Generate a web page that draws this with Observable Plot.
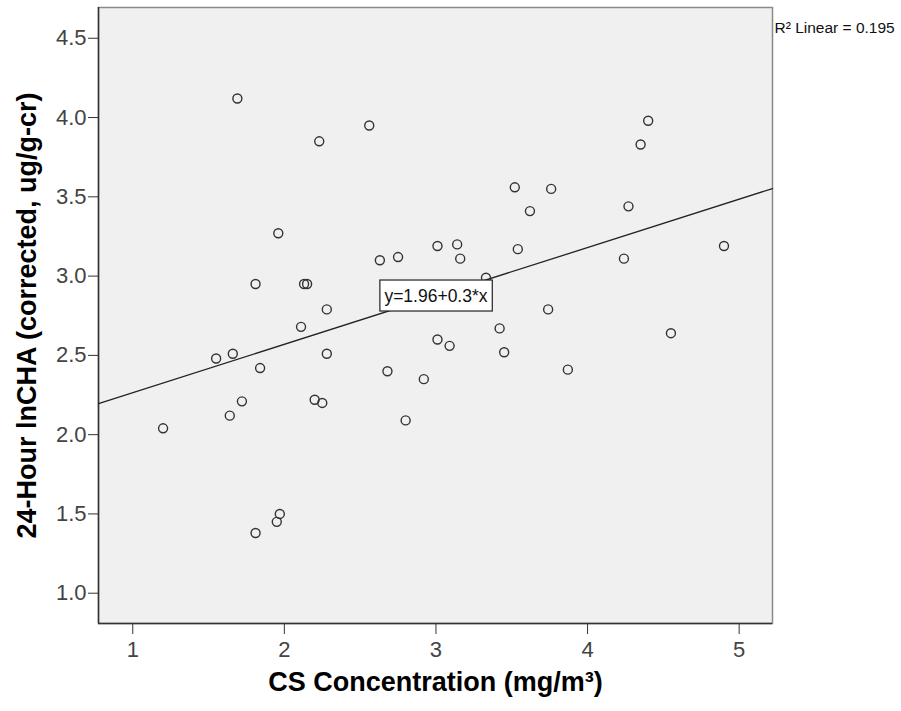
<!DOCTYPE html>
<html><head><meta charset="utf-8">
<script src="https://cdn.jsdelivr.net/npm/d3@7"></script>
<script src="https://cdn.jsdelivr.net/npm/@observablehq/plot@0.6"></script>
<style>body{margin:0;background:#fff;} svg{display:block;}</style>
</head><body><div id="chart"></div>
<script>
// Data
const csConc = [1.20,1.55,1.66,1.64,1.72,1.69,1.81,1.84,1.81,1.95,1.97,1.96,2.11,2.13,2.15,2.20,2.25,2.23,2.28,2.28,2.56,2.63,2.68,2.75,2.80,2.92,3.01,3.01,3.09,3.14,3.16,3.33,3.42,3.45,3.52,3.54,3.62,3.74,3.76,3.87,4.24,4.27,4.35,4.40,4.55,4.90];
const lnCHA  = [2.04,2.48,2.51,2.12,2.21,4.12,2.95,2.42,1.38,1.45,1.50,3.27,2.68,2.95,2.95,2.22,2.20,3.85,2.79,2.51,3.95,3.10,2.40,3.12,2.09,2.35,3.19,2.60,2.56,3.20,3.11,2.99,2.67,2.52,3.56,3.17,3.41,2.79,3.55,2.41,3.11,3.44,3.83,3.98,2.64,3.19];
const xTicks = [1, 2, 3, 4, 5];
const yTicks = [1.0, 1.5, 2.0, 2.5, 3.0, 3.5, 4.0, 4.5];
const xDomain = [0.774, 5.22];
const yDomain = [0.809, 4.694];
const fitIntercept = 1.96;
const fitSlope = 0.305;
const fitLabel = "y=1.96+0.3*x";
const fitLabelX = 3.0;
const r2Label = "R\u00B2 Linear = 0.195";
const xTitle = "CS Concentration (mg/m\u00B3)";
const yTitle = "24-Hour lnCHA (corrected, ug/g-cr)";

const points = csConc.map((x, i) => ({x, y: lnCHA[i]}));
const fitLine = xDomain.map(x => ({x, y: fitIntercept + fitSlope * x}));

const chart = Plot.plot({
  width: 901, height: 711,
  marginLeft: 98, marginRight: 129, marginTop: 7, marginBottom: 88,
  style: {fontFamily: "'Liberation Sans', Arial, sans-serif", fontSize: "19px", color: "#333", background: "#fff", overflow: "visible"},
  x: {domain: xDomain, axis: null},
  y: {domain: yDomain, axis: null},
  marks: [
    Plot.frame({fill: "#f0f0f0", stroke: "#8a8a8a", strokeWidth: 1.5}),
    Plot.axisX({ticks: xTicks, tickFormat: d3.format("d"), tickSize: 11, tickPadding: 7, label: null, fontSize: 22, stroke: "#333", fill: "#444"}),
    Plot.axisY({ticks: yTicks, tickFormat: d3.format(".1f"), tickSize: 10, tickPadding: 2, label: null, fontSize: 22, stroke: "#333", fill: "#444"}),
    Plot.ruleX([xDomain[0]], {stroke: "#333", strokeWidth: 1.5}),
    Plot.ruleY([yDomain[0]], {stroke: "#333", strokeWidth: 1.5}),
    Plot.line(fitLine, {x: "x", y: "y", stroke: "#222", strokeWidth: 1.3}),
    Plot.dot(points, {x: "x", y: "y", r: 4.5, stroke: "#333", strokeWidth: 1.4, fill: "none"}),
    Plot.text([fitLabel], {x: () => fitLabelX, y: () => fitIntercept + fitSlope * fitLabelX, text: d => d, fontSize: 17.5, fill: "#111"}),
    Plot.text([r2Label], {frameAnchor: "top-right", dx: 2, dy: 14, textAnchor: "start", text: d => d, fontSize: 15.5, fill: "#111"}),
    Plot.text([yTitle], {frameAnchor: "left", dx: -71, rotate: -90, textAnchor: "middle", text: d => d, fontSize: 27, fontWeight: "bold", fill: "#000"}),
    Plot.text([xTitle], {frameAnchor: "bottom", dy: 67, textAnchor: "middle", text: d => d, fontSize: 27, fontWeight: "bold", fill: "#000"})
  ]
});
document.getElementById("chart").appendChild(chart);

// White box with border behind the equation label
d3.select(chart).selectAll("text").filter(function() { return this.textContent === fitLabel; }).each(function() {
  const bb = this.getBBox();
  const cx = bb.x + bb.width / 2, cy = bb.y + bb.height / 2;
  const w = bb.width + 9, h = 31;
  d3.select(this.parentNode).insert("rect", () => this)
    .attr("transform", this.getAttribute("transform"))
    .attr("x", cx - w / 2).attr("y", cy - h / 2)
    .attr("width", w).attr("height", h)
    .attr("fill", "#fff").attr("stroke", "#222").attr("stroke-width", 1.2);
});
</script>
</body></html>
